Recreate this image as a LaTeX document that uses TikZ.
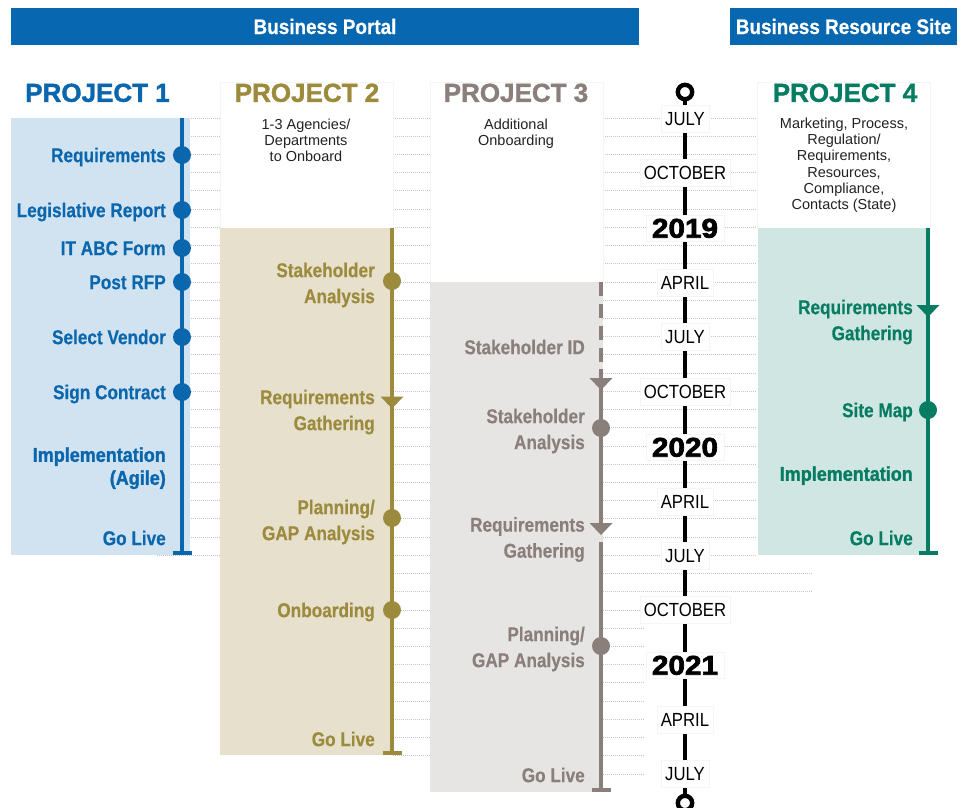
\documentclass[tikz,border=0pt]{standalone}
\usepackage{fontspec}
\setmainfont{Liberation Sans}
\newfontfamily\labfam[FakeStretch=0.86,FakeBold=0.4]{Liberation Sans}
\newfontfamily\impfam[FakeStretch=0.9,FakeBold=1.4]{Liberation Sans}
\newfontfamily\headfam[FakeBold=1.5]{Liberation Sans}
\newfontfamily\banfam[FakeStretch=0.9,FakeBold=0.6]{Liberation Sans}
\newfontfamily\monfam[FakeStretch=0.88]{Liberation Sans}
\newfontfamily\yearfam[FakeStretch=1.1,FakeBold=2.6]{Liberation Sans}
\definecolor{bannerblue}{HTML}{0767B0}
\definecolor{pone}{HTML}{0A66AD}
\definecolor{ponefill}{HTML}{D1E3F0}
\definecolor{ptwo}{HTML}{9D8B3D}
\definecolor{ptwofill}{HTML}{E7E0CD}
\definecolor{pthree}{HTML}{8B7F7B}
\definecolor{pthreefill}{HTML}{E6E5E4}
\definecolor{pfour}{HTML}{067C62}
\definecolor{pfourfill}{HTML}{D0E6E2}
\definecolor{gridgray}{HTML}{C6C6C6}
\definecolor{desctext}{HTML}{222222}
\tikzset{
  pics/arrdown/.style={code={\fill[pic actions] (-11.5,-5.5) -- (11.5,-5.5) -- (0,6.5) -- cycle;}},
  pics/tbar/.style={code={\draw[pic actions, line width=3.5pt] (-9.5,0) -- (9.5,0);}},
}
\begin{document}
\begin{tikzpicture}[x=1pt,y=-1pt,
  gridline/.style={draw=gridgray, line width=0.9pt, dash pattern=on 1pt off 1pt},
  banner/.style={fill=bannerblue, text=white, font=\banfam\bfseries\fontsize{21}{21}\selectfont,
     inner sep=0pt, text height=15pt, text depth=0pt, minimum height=37pt},
  ptitle/.style={font=\headfam\bfseries\fontsize{26}{26}\selectfont, inner sep=0pt,
     text height=18.6pt, text depth=0pt},
  hdrbox/.style={fill=white, draw=black!4, line width=0.6pt},
  desc/.style={font=\fontsize{14.5}{16.3}\selectfont, text=desctext, align=center, inner sep=0pt, anchor=north},
  lab/.style={font=\labfam\bfseries\fontsize{20}{26}\selectfont, align=right, anchor=east,
     inner sep=0pt, yshift=-1.95pt},
  labimp/.style={font=\impfam\bfseries\fontsize{20}{23}\selectfont, align=right, anchor=east,
     inner sep=0pt, yshift=-2.2pt},
  pline/.style={line width=3.3pt},
  mon/.style={fill=white, draw=black!4, line width=0.5pt, font=\monfam\fontsize{19}{19}\selectfont,
     text height=13.6pt, text depth=0pt, inner xsep=4pt, inner ysep=6.8pt, text=black},
  yr/.style={fill=white, draw=black!4, line width=0.5pt, font=\yearfam\bfseries\fontsize{27}{27}\selectfont,
     text height=19.3pt, text depth=0pt, inner xsep=6pt, inner ysep=3.6pt, text=black},
]
\useasboundingbox (0,0) rectangle (964,807);
\fill[white] (0,0) rectangle (964,807);

% dotted month grid
\foreach \k in {0,...,24} {\draw[gridline] (157,{118+18.22*\k}) -- (757,{118+18.22*\k});}
\foreach \k in {25,26} {\draw[gridline] (393,{118+18.22*\k}) -- (812,{118+18.22*\k});}
\foreach \k in {27,...,35} {\draw[gridline] (393,{118+18.22*\k}) -- (645,{118+18.22*\k});}
\draw[gridline] (603,774) -- (645,774);

% banners
\node[banner, minimum width=628pt] (bportal) at (325,26.5) {Business Portal};
\node[banner, minimum width=227pt] (bresource) at (843.5,26.5) {Business Resource Site};

% header boxes
\filldraw[hdrbox] (220,82) rectangle (393,228);
\filldraw[hdrbox] (430,82) rectangle (603,282);
\filldraw[hdrbox] (757,82) rectangle (930,228);

% coloured project boxes
\fill[ponefill] (11,118) rectangle (190,555);
\fill[ptwofill] (220,228) rectangle (393,755);
\fill[pthreefill] (430,282) rectangle (603,792);
\fill[pfourfill] (758,228) rectangle (930,555);

% titles
\node[ptitle, text=pone] (title1) at (97.5,92.5) {PROJECT 1};
\node[ptitle, text=ptwo] (title2) at (307,92.5) {PROJECT 2};
\node[ptitle, text=pthree] (title3) at (516,92.5) {PROJECT 3};
\node[ptitle, text=pfour] (title4) at (845,92.5) {PROJECT 4};

% descriptions
\node[desc] (desc2) at (306,117.6) {\strut 1-3 Agencies/\\\strut Departments\\\strut to Onboard};
\node[desc] (desc3) at (516,117.6) {\strut Additional\\\strut Onboarding};
\node[desc] (desc4) at (844,116.6) {\strut Marketing, Process,\\\strut Regulation/\\\strut Requirements,\\\strut Resources,\\\strut Compliance,\\\strut Contacts (State)};

% ---------- timeline ----------
\coordinate (tltop) at (685,100);
\coordinate (tlbot) at (685,794);
\draw[line width=4pt, black] (tltop) -- (tlbot);
\draw[line width=4.4pt, black] (685,92) circle[radius=7.2pt];
\draw[line width=4.4pt, black] (685,803) circle[radius=7.2pt];
\node[mon] (tl1) at (685,118.5) {JULY};
\node[mon] (tl2) at (685,173) {OCTOBER};
\node[yr]  (tl3) at (685,228) {2019};
\node[mon] (tl4) at (685,282.5) {APRIL};
\node[mon] (tl5) at (685,337) {JULY};
\node[mon] (tl6) at (685,392) {OCTOBER};
\node[yr]  (tl7) at (685,447) {2020};
\node[mon] (tl8) at (685,501.5) {APRIL};
\node[mon] (tl9) at (685,556) {JULY};
\node[mon] (tl10) at (685,610) {OCTOBER};
\node[yr]  (tl11) at (685,665) {2021};
\node[mon] (tl12) at (685,719.5) {APRIL};
\node[mon] (tl13) at (685,774) {JULY};

% ---------- project 1 ----------
\coordinate (p1top) at (182,118);
\coordinate (p1a) at (182,155);
\coordinate (p1b) at (182,210);
\coordinate (p1c) at (182,248);
\coordinate (p1d) at (182,282);
\coordinate (p1e) at (182,337);
\coordinate (p1f) at (182,392);
\coordinate (p1end) at (182,553);
\draw[pline, pone] (p1top) -- (p1a) -- (p1b) -- (p1c) -- (p1d) -- (p1e) -- (p1f) -- (p1end);
\foreach \c in {p1a,p1b,p1c,p1d,p1e,p1f} {\fill[pone] (\c) circle[radius=9pt];}
\pic[draw=pone] at (p1end) {tbar};
\node[lab, text=pone] (l1a) at (166,155) {\strut Requirements};
\node[lab, text=pone] (l1b) at (166,210) {\strut Legislative Report};
\node[lab, text=pone] (l1c) at (166,248) {\strut IT ABC Form};
\node[lab, text=pone] (l1d) at (166,282) {\strut Post RFP};
\node[lab, text=pone] (l1e) at (166,337) {\strut Select Vendor};
\node[lab, text=pone] (l1f) at (166,392) {\strut Sign Contract};
\node[labimp, text=pone] (l1g) at (166,466.5) {\strut Implementation\\\strut (Agile)};
\node[lab, text=pone] (l1h) at (166,538) {\strut Go Live};

% ---------- project 2 ----------
\coordinate (p2top) at (392,228);
\coordinate (p2a) at (392,281);
\coordinate (p2arr) at (392,402);
\coordinate (p2b) at (392,518);
\coordinate (p2c) at (392,610);
\coordinate (p2end) at (392,753);
\draw[pline, ptwo] (p2top) -- (p2a) -- (p2arr) -- (p2b) -- (p2c) -- (p2end);
\foreach \c in {p2a,p2b,p2c} {\fill[ptwo] (\c) circle[radius=9pt];}
\pic[fill=ptwo] at (p2arr) {arrdown};
\pic[draw=ptwo] at (p2end) {tbar};
\node[lab, text=ptwo] (l2a) at (375,283) {\strut Stakeholder\\\strut Analysis};
\node[lab, text=ptwo] (l2b) at (375,410) {\strut Requirements\\\strut Gathering};
\node[lab, text=ptwo] (l2c) at (375,520) {\strut Planning/\\\strut GAP Analysis};
\node[lab, text=ptwo] (l2d) at (375,610) {\strut Onboarding};
\node[lab, text=ptwo] (l2e) at (375,739) {\strut Go Live};

% ---------- project 3 ----------
\coordinate (p3top) at (601,282);
\coordinate (p3dashend) at (601,364);
\coordinate (p3solid) at (601,369);
\coordinate (p3arra) at (601,383.5);
\coordinate (p3a) at (601,428);
\coordinate (p3arrb) at (601,528.5);
\coordinate (p3resume) at (601,542);
\coordinate (p3b) at (601,646);
\coordinate (p3end) at (601,790);
\draw[pline, pthree, dash pattern=on 14pt off 8pt] (p3top) -- (p3dashend);
\draw[pline, pthree] (p3solid) -- (p3arra) -- (p3a) -- (p3arrb);
\draw[pline, pthree] (p3resume) -- (p3b) -- (p3end);
\foreach \c in {p3a,p3b} {\fill[pthree] (\c) circle[radius=9pt];}
\pic[fill=pthree] at (p3arra) {arrdown};
\pic[fill=pthree] at (p3arrb) {arrdown};
\pic[draw=pthree] at (p3end) {tbar};
\node[lab, text=pthree] (l3a) at (585,347) {\strut Stakeholder ID};
\node[lab, text=pthree] (l3b) at (585,429) {\strut Stakeholder\\\strut Analysis};
\node[lab, text=pthree] (l3c) at (585,537.5) {\strut Requirements\\\strut Gathering};
\node[lab, text=pthree] (l3d) at (585,647) {\strut Planning/\\\strut GAP Analysis};
\node[lab, text=pthree] (l3e) at (585,775) {\strut Go Live};

% ---------- project 4 ----------
\coordinate (p4top) at (928,228);
\coordinate (p4arr) at (928,310.5);
\coordinate (p4a) at (928,410);
\coordinate (p4end) at (928,553);
\draw[pline, pfour] (p4top) -- (p4arr) -- (p4a) -- (p4end);
\fill[pfour] (p4a) circle[radius=9pt];
\pic[fill=pfour] at (p4arr) {arrdown};
\pic[draw=pfour] at (p4end) {tbar};
\node[lab, text=pfour] (l4a) at (913,320) {\strut Requirements\\\strut Gathering};
\node[lab, text=pfour] (l4b) at (913,410) {\strut Site Map};
\node[labimp, text=pfour] (l4c) at (913,474) {\strut Implementation};
\node[lab, text=pfour] (l4d) at (913,538) {\strut Go Live};
\end{tikzpicture}
\end{document}
